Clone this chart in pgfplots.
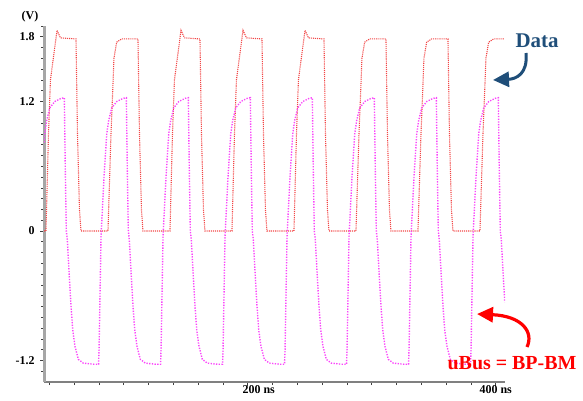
\documentclass[border=0pt]{standalone}
\usepackage{pgfplots}
\pgfplotsset{compat=1.18}
\usepackage{fontspec}
\setmainfont{Liberation Serif}
\usetikzlibrary{arrows.meta}
\definecolor{datablue}{RGB}{31,78,121}
\definecolor{wavered}{RGB}{242,70,70}
\definecolor{wavepink}{RGB}{250,70,250}
\begin{document}
\begin{tikzpicture}[x=1bp,y=1bp]
\path[use as bounding box] (0,0) rectangle (583,400);
\begin{axis}[
    at={(44bp,18bp)}, anchor=south west,
    scale only axis, width=461bp, height=356bp,
    xmin=35.7, xmax=407.5, ymin=-1.4, ymax=1.9,
    axis x line=bottom, axis y line=left,
    x axis line style={-, line width=1.8bp, gray},
    y axis line style={-, line width=3bp, gray!70},
    tick align=outside,
    tick style={gray!50!black, line width=0.6bp},
    major tick length=4bp, minor tick length=3bp,
    xtick={200,400}, xticklabels={\hspace*{22bp}200 ns,400 ns},
    minor xtick={40,60,80,100,120,140,160,180,220,240,260,280,300,320,340,360,380},
    ytick={-1.2,0,1.2,1.8}, yticklabels={-1.2,0,1.2,1.8},
    minor ytick={-1.3,-1.1,-1.0,-0.9,-0.8,-0.7,-0.6,-0.5,-0.4,-0.3,-0.2,-0.1,0.1,0.2,0.3,0.4,0.5,0.6,0.7,0.8,0.9,1.0,1.1,1.3,1.4,1.5,1.6,1.7,1.9},
    ticklabel style={font=\fontsize{12}{14}\selectfont\bfseries},
    yticklabel style={xshift=-2bp},
    xticklabel style={yshift=1.5bp, inner ysep=1bp},
    /pgf/number format/assume math mode=true,
]
% Data
\addplot[wavered, line width=1.1bp, densely dotted] coordinates {
(35.7,0) (37.3,0)
(39.3,0.89) (40.9,1.40) (46.2,1.86) (49.0,1.79) (61.5,1.78) (62.7,0.9) (64.3,0.2) (65.5,0)
(87.3,0) (89.7,0.89) (91.1,1.29) (92.1,1.6) (94.3,1.75) (98.3,1.78) (111.5,1.78) (112.7,0.9) (114.3,0.2) (115.5,0)
(137.3,0) (139.3,0.89) (140.9,1.40) (146.2,1.86) (149.0,1.79) (161.5,1.78) (162.7,0.9) (164.3,0.2) (165.5,0)
(187.3,0) (189.3,0.89) (190.9,1.40) (196.2,1.86) (199.0,1.79) (211.5,1.78) (212.7,0.9) (214.3,0.2) (215.5,0)
(237.3,0) (239.3,0.89) (240.9,1.40) (246.2,1.86) (249.0,1.79) (261.5,1.78) (262.7,0.9) (264.3,0.2) (265.5,0)
(287.3,0) (289.7,0.89) (291.1,1.29) (292.1,1.6) (294.3,1.75) (298.3,1.78) (311.5,1.78) (312.7,0.9) (314.3,0.2) (315.5,0)
(337.3,0) (339.7,0.89) (341.1,1.29) (342.1,1.6) (344.3,1.75) (348.3,1.78) (361.5,1.78) (362.7,0.9) (364.3,0.2) (365.5,0)
(387.3,0) (389.7,0.89) (391.1,1.29) (392.1,1.6) (394.3,1.75) (398.3,1.78) (407.3,1.78)
};
% uBus = BP-BM
\addplot[wavepink, line width=1.4bp, dash pattern=on 1.3bp off 1.4bp] coordinates {
(35.7,0.82) (36.3,0.9) (37.8,1.02) (40.3,1.14) (44.4,1.2) (49.7,1.23)
(52.1,1.235) (52.9,0.55) (53.7,0.0) (54.5,-0.08) (56.1,-0.42) (57.5,-0.7) (58.9,-0.92) (60.7,-1.07) (63.4,-1.19) (67.4,-1.225) (75.5,-1.235) (79.7,-1.235) (80.1,-1.1) (81.7,-0.05) (84.1,0.5) (86.3,0.9) (87.8,1.02) (90.3,1.14) (94.4,1.2) (99.7,1.23)
(102.1,1.235) (102.9,0.55) (103.7,0.0) (104.5,-0.08) (106.1,-0.42) (107.5,-0.7) (108.9,-0.92) (110.7,-1.07) (113.4,-1.19) (117.4,-1.225) (125.5,-1.235) (129.7,-1.235) (130.1,-1.1) (131.7,-0.05) (134.1,0.5) (136.3,0.9) (137.8,1.02) (140.3,1.14) (144.4,1.2) (149.7,1.23)
(152.1,1.235) (152.9,0.55) (153.7,0.0) (154.5,-0.08) (156.1,-0.42) (157.5,-0.7) (158.9,-0.92) (160.7,-1.07) (163.4,-1.19) (167.4,-1.225) (175.5,-1.235) (179.7,-1.235) (180.1,-1.1) (181.7,-0.05) (184.1,0.5) (186.3,0.9) (187.8,1.02) (190.3,1.14) (194.4,1.2) (199.7,1.23)
(202.1,1.235) (202.9,0.55) (203.7,0.0) (204.5,-0.08) (206.1,-0.42) (207.5,-0.7) (208.9,-0.92) (210.7,-1.07) (213.4,-1.19) (217.4,-1.225) (225.5,-1.235) (229.7,-1.235) (230.1,-1.1) (231.7,-0.05) (234.1,0.5) (236.3,0.9) (237.8,1.02) (240.3,1.14) (244.4,1.2) (249.7,1.23)
(252.1,1.235) (252.9,0.55) (253.7,0.0) (254.5,-0.08) (256.1,-0.42) (257.5,-0.7) (258.9,-0.92) (260.7,-1.07) (263.4,-1.19) (267.4,-1.225) (275.5,-1.235) (279.7,-1.235) (280.1,-1.1) (281.7,-0.05) (284.1,0.5) (286.3,0.9) (287.8,1.02) (290.3,1.14) (294.4,1.2) (299.7,1.23)
(302.1,1.235) (302.9,0.55) (303.7,0.0) (304.5,-0.08) (306.1,-0.42) (307.5,-0.7) (308.9,-0.92) (310.7,-1.07) (313.4,-1.19) (317.4,-1.225) (325.5,-1.235) (329.7,-1.235) (330.1,-1.1) (331.7,-0.05) (334.1,0.5) (336.3,0.9) (337.8,1.02) (340.3,1.14) (344.4,1.2) (349.7,1.23)
(352.1,1.235) (352.9,0.55) (353.7,0.0) (354.5,-0.08) (356.1,-0.42) (357.5,-0.7) (358.9,-0.92) (360.7,-1.07) (363.4,-1.19) (367.4,-1.225) (375.5,-1.235) (379.7,-1.235) (380.1,-1.1) (381.7,-0.05) (384.1,0.5) (386.3,0.9) (387.8,1.02) (390.3,1.14) (394.4,1.2) (399.7,1.23)
(402.1,1.235) (402.9,0.55) (403.7,0.0) (404.5,-0.08) (406.1,-0.42) (407.3,-0.66)
};
\end{axis}
% unit label and annotations
\node[font=\fontsize{12}{14}\selectfont\bfseries] at (30,383) {(V)};
\node[font=\fontsize{21}{24}\selectfont\bfseries, text=datablue] at (537,359) {Data};
\draw[datablue, line width=3bp, -{Triangle[length=16bp,width=15bp]}]
  (526,347) .. controls (528,326) and (516,321) .. (493,320);
\node[font=\fontsize{20}{24}\selectfont\bfseries, text=red] at (512,37) {uBus = BP-BM};
\draw[red, line width=3.2bp, -{Triangle[length=16bp,width=15bp]}]
  (527,53) .. controls (534,68) and (522,84) .. (477,86);
\end{tikzpicture}
\end{document}
